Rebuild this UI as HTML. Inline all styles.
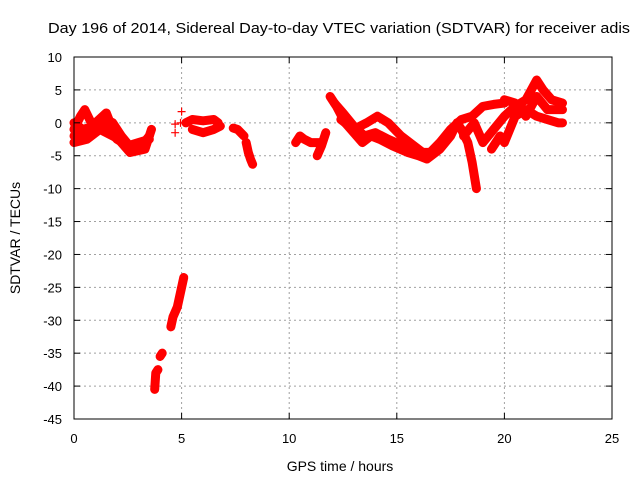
<!DOCTYPE html>
<html><head><meta charset="utf-8"><style>
body{margin:0;background:#fff}
svg{display:block;font-family:"Liberation Sans",sans-serif}
</style></head><body>
<svg id="chart" width="640" height="480">
<text x="48" y="33" font-size="15" textLength="582" lengthAdjust="spacingAndGlyphs">Day 196 of 2014, Sidereal Day-to-day VTEC variation (SDTVAR) for receiver adis</text>
<text x="340" y="471" font-size="14" text-anchor="middle">GPS time / hours</text>
<text transform="translate(20,238) rotate(-90)" font-size="14" text-anchor="middle">SDTVAR / TECUs</text>
<g id="grid"></g><g id="marks"></g><g id="axes"></g>
</svg>
<script>
const xTicks=[0,5,10,15,20,25];
const yTicks=[10,5,0,-5,-10,-15,-20,-25,-30,-35,-40,-45];
const trackA1=[[0,-1],[0.3,1],[0.5,2],[0.8,0],[1,-1],[1.5,0.5],[1.8,0],[2.2,-2],[2.7,-4],[3.0,-4],[3.5,-2]];
const trackA2=[[0,-2],[0.5,-2],[1,0],[1.5,1.5],[1.8,-1],[2.2,-3],[2.6,-4.5],[3.3,-4],[3.6,-1]];
const trackA3=[[0,-3],[0.6,-2.5],[1.2,-1],[1.8,-2],[2.4,-3]];
const trackA4=[[0,0],[0.4,-1],[1,-0.5],[1.6,-1],[2,-2.5],[2.5,-3.5],[3,-3],[3.5,-2.5]];
const trackN1=[[3.75,-40.5],[3.8,-38],[3.9,-37.5]];
const trackN2=[[4.0,-35.5],[4.1,-35]];
const trackN3=[[4.5,-31],[4.6,-29.5],[4.8,-28],[5.0,-25],[5.1,-23.5]];
const isolated=[[4.7,-0.2],[4.7,-1.5],[5.0,1.7],[4.95,0]];
const trackC1=[[5.2,0],[5.5,0.5],[6,0.3],[6.5,0.5],[6.7,0]];
const trackC2=[[5.5,-1],[6,-1.5],[6.5,-1],[6.8,-0.5]];
const trackC3=[[7.4,-0.8],[7.6,-1],[7.9,-2]];
const trackC4=[[8.0,-3],[8.1,-4.5],[8.2,-5.5],[8.3,-6.3]];
const trackD1=[[10.3,-3],[10.5,-2],[10.7,-2.5],[11,-3],[11.4,-3]];
const trackD2=[[11.3,-5],[11.5,-3.5],[11.7,-1.5]];
const trackB1=[[11.9,4],[12.2,2.5],[12.6,0],[13,-1.5],[13.4,-3],[13.8,-2],[14.2,-2.5],[14.8,-3.5],[15.5,-4.5],[16,-5],[16.4,-5.5],[17,-4],[17.5,-2],[17.8,0],[18,-1],[18.3,-3],[18.5,-6],[18.7,-10]];
const trackB2=[[12.4,0.5],[13,-1],[13.6,0],[14.1,1],[14.6,0],[15.2,-2],[15.8,-3.5],[16.4,-5],[17,-3],[17.5,-1],[18,0.5],[18.5,1],[19,2.5],[19.5,2.8],[20,3]];
const trackB3=[[18.1,-2],[18.6,0],[19,-3],[19.5,-1],[20,1],[20.5,2.5],[21,3.5],[21.5,6.5],[21.8,5],[22.2,3.5],[22.7,3]];
const trackB4=[[19.4,-4],[19.8,-2],[20,-3],[20.5,1],[21,2],[21.5,1],[22,0.5],[22.5,0],[22.7,0]];
const trackB5=[[20,3.5],[20.5,3],[21,1],[21.5,4],[22,2],[22.7,2]];
const trackB6=[[12.1,3],[12.5,1.5],[13,-0.5],[13.5,-2],[14,-1.5],[14.6,-2.5],[15.3,-3.5],[16,-4.5],[16.6,-4.5],[17.2,-3],[17.7,-0.5]];
const tracks=[trackA1,trackA2,trackA3,trackA4,trackN1,trackN2,trackN3,trackC1,trackC2,trackC3,trackC4,trackD1,trackD2,trackB1,trackB2,trackB3,trackB4,trackB5,trackB6];

const L=74,R=612,T=57,B=419;
const X=t=>L+(t-0)/25*(R-L);
const Y=v=>T+(10-v)/55*(B-T);
const NS='http://www.w3.org/2000/svg';
function mk(tag,attrs,parent){const e=document.createElementNS(NS,tag);for(const k in attrs)e.setAttribute(k,attrs[k]);parent.appendChild(e);return e;}
const grid=document.getElementById('grid'),marks=document.getElementById('marks'),axes=document.getElementById('axes');
xTicks.forEach(t=>{
  if(t>0&&t<25){const g=mk('line',{x1:X(t),x2:X(t),y1:T,y2:B,stroke:'#a0a0a0','stroke-dasharray':'2,3'},grid);
  
  }
  mk('line',{x1:X(t),x2:X(t),y1:B,y2:B-6,stroke:'#000'},axes);
  mk('line',{x1:X(t),x2:X(t),y1:T,y2:T+6,stroke:'#000'},axes);
  const lb=mk('text',{x:X(t),y:B+24,'font-size':13,'text-anchor':'middle'},axes);lb.textContent=t;
  
  
});
yTicks.forEach(v=>{
  if(v>-45&&v<10){const g=mk('line',{x1:L,x2:R,y1:Y(v),y2:Y(v),stroke:'#a0a0a0','stroke-dasharray':'2,3'},grid);
  
  }
  mk('line',{x1:L,x2:L+6,y1:Y(v),y2:Y(v),stroke:'#000'},axes);
  mk('line',{x1:R,x2:R-6,y1:Y(v),y2:Y(v),stroke:'#000'},axes);
  const lb=mk('text',{x:L-12,y:Y(v)+5,'font-size':13,'text-anchor':'end'},axes);lb.textContent=v;
  
  
});
const border=mk('rect',{x:L,y:T,width:R-L,height:B-T,fill:'none',stroke:'#000'},axes);


function plus(t,v){const p=mk('path',{d:`M${X(t)-4},${Y(v)}h8M${X(t)},${Y(v)-4}v8`,stroke:'#f00','stroke-width':1.2,fill:'none'},marks);
  
  }
tracks.forEach(tr=>{
  const pl=mk('polyline',{points:tr.map(p=>X(p[0])+','+Y(p[1])).join(' '),stroke:'#f00','stroke-width':9,fill:'none','stroke-linejoin':'round','stroke-linecap':'round'},marks);
  
  
  tr.forEach(p=>plus(p[0],p[1]));
});
isolated.forEach(p=>plus(p[0],p[1]));
</script>
</body></html>
